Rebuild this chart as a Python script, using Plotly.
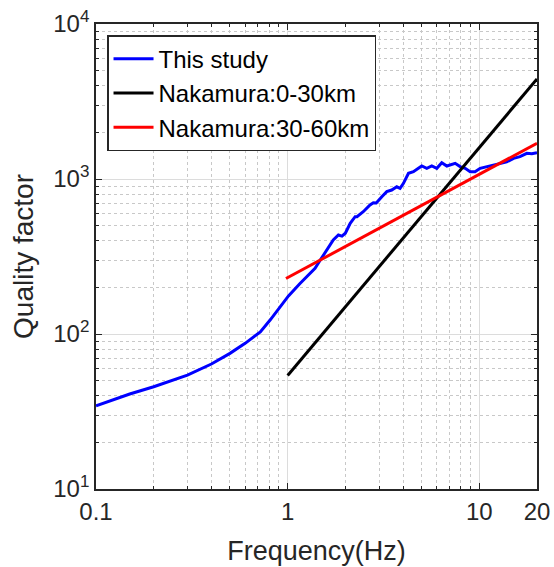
import plotly.graph_objects as go

# ---- data ----
study_freq = [0.1, 0.15, 0.2, 0.25, 0.3, 0.4, 0.5, 0.6, 0.66, 0.72, 0.81, 0.91, 1.01,
              1.16, 1.28, 1.39, 1.48, 1.60, 1.73, 1.84, 1.92, 2.0, 2.12, 2.25, 2.30,
              2.48, 2.69, 2.80, 2.9, 3.10, 3.29, 3.49, 3.71, 3.86, 4.02, 4.27, 4.53,
              4.81, 5.01, 5.32, 5.65, 6.0, 6.37, 6.77, 7.05, 7.48, 7.94, 8.44, 8.96,
              9.5, 10.1, 10.9, 11.9, 12.8, 13.9, 15.1, 16.3, 17.7, 18.8, 20.0]
study_q = [34.4, 41, 45.7, 50, 54.3, 64, 75, 87, 95, 103, 123, 150, 176,
           212, 240, 265, 300, 348, 404, 435, 428, 447, 518, 571, 571,
           615, 680, 703, 700, 769, 829, 849, 891, 871, 938, 1088, 1115,
           1172, 1213, 1172, 1213, 1172, 1275, 1213, 1230, 1262, 1202, 1172, 1115,
           1115, 1172, 1202, 1230, 1262, 1290, 1359, 1393, 1465, 1455, 1480]

nak1_freq = [1.0, 20.0]
nak1_q = [54, 4420]

nak2_freq = [0.98, 20.0]
nak2_q = [228, 1700]

x_tickvals = [0.1, 1, 10, 20]
x_ticktext = ["0.1", "1", "10", "20"]
y_tickvals = [10, 100, 1000, 10000]
SUP = "<span style='font-size:17px'>%s</span>"
y_ticktext = ["10<sup>" + SUP % e + "</sup>" for e in ("1", "2", "3", "4")]

x_minor = [0.2, 0.3, 0.4, 0.5, 0.6, 0.7, 0.8, 0.9, 2, 3, 4, 5, 6, 7, 8, 9]
y_minor = [m * d for d in (10, 100, 1000) for m in range(2, 10)]

FONT = "Liberation Sans, Arial, sans-serif"

fig = go.Figure()
fig.add_trace(go.Scatter(x=study_freq, y=study_q, mode="lines", name="This study",
                         line=dict(color="#0000ff", width=3)))
fig.add_trace(go.Scatter(x=nak1_freq, y=nak1_q, mode="lines", name="Nakamura:0-30km",
                         line=dict(color="#000000", width=3)))
fig.add_trace(go.Scatter(x=nak2_freq, y=nak2_q, mode="lines", name="Nakamura:30-60km",
                         line=dict(color="#ff0000", width=3)))

axis_common = dict(
    showline=True, linecolor="#262626", linewidth=1.5, mirror="allticks",
    ticks="inside", ticklen=6, tickcolor="#262626", tickwidth=1,
    showgrid=True, gridcolor="#dcdcdc", gridwidth=1,
    zeroline=False, automargin=False,
    tickfont=dict(family=FONT, size=24, color="#262626"),
    minor=dict(ticks="inside", ticklen=3, tickcolor="#262626", showgrid=True,
               gridcolor="#c8c8c8", griddash="dot", gridwidth=1),
)

fig.update_xaxes(type="log", range=[-1, 1.30103], tickmode="array",
                 tickvals=x_tickvals, ticktext=x_ticktext,
                 title=dict(text="Frequency(Hz)", font=dict(family=FONT, size=27, color="#262626"),
                            standoff=18),
                 **axis_common)
fig.update_xaxes(minor_tickvals=x_minor)
fig.update_yaxes(type="log", range=[1, 4], tickmode="array",
                 tickvals=y_tickvals, ticktext=y_ticktext,
                 title=dict(text="Quality factor", font=dict(family=FONT, size=28, color="#262626"),
                            standoff=11),
                 **axis_common)
fig.update_yaxes(minor_tickvals=y_minor)

fig.update_layout(
    width=554, height=567,
    margin=dict(l=96, r=17, t=24, b=78),
    plot_bgcolor="white", paper_bgcolor="white",
    font=dict(family=FONT, size=24, color="#000000"),
    showlegend=True,
    legend=dict(x=0.025, y=0.976, xanchor="left", yanchor="top",
                bgcolor="white", bordercolor="#262626", borderwidth=1.5,
                font=dict(family=FONT, size=24, color="#000000"),
                tracegroupgap=0, itemwidth=40),
)

fig.write_html("out.html", config={"displayModeBar": False},
               post_script="document.body.style.margin='0px';document.body.style.overflow='hidden';")
